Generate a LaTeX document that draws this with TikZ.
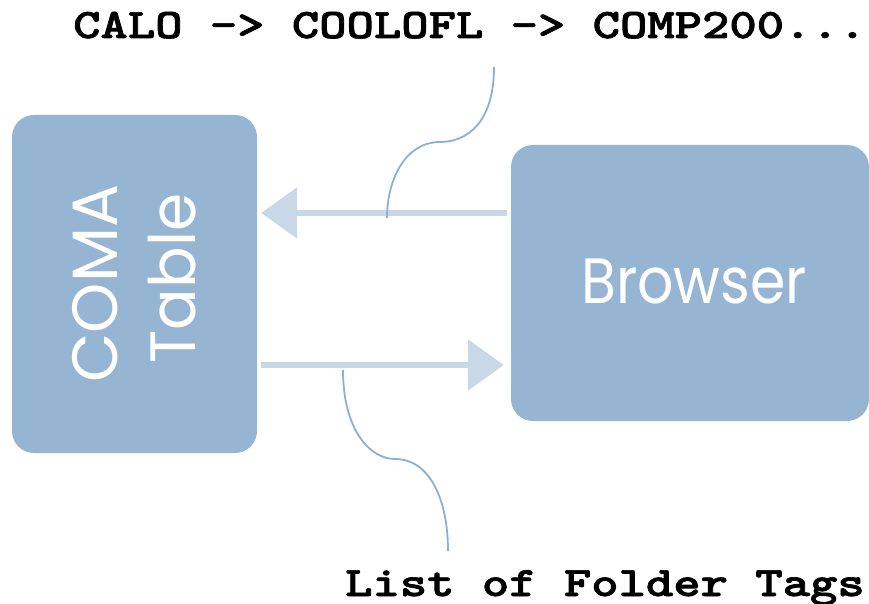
\documentclass[tikz,border=0pt]{standalone}
\usepackage{fontspec}
\newfontfamily\gothic{Poppins}
\newfontfamily\courb[FakeBold=1.6]{lmmonolt10-bold.otf}
\usetikzlibrary{arrows.meta}
\definecolor{boxblue}{HTML}{95B5D3}
\definecolor{flowblue}{HTML}{C8D8E7}
\definecolor{curveblue}{HTML}{8CB0D3}
\tikzset{
  box/.style={fill=boxblue, draw=none, rounded corners=22pt, inner sep=0pt},
  boxtext/.style={text=white, inner sep=0pt, font=\gothic\fontsize{64}{70}\selectfont},
  flow/.style={draw=flowblue, line width=6pt, -{Triangle[length=36pt,width=50pt]}},
  brace/.style={draw=curveblue, line width=1.8pt},
  tag/.style={inner sep=0pt, font=\courb\fontsize{42}{46}\selectfont}
}
\begin{document}
\begin{tikzpicture}[x=1pt,y=-1pt]
\useasboundingbox (0,0) rectangle (869,604);
\node[box, minimum width=245pt, minimum height=338pt] (coma) at (134.5,284) {};
\node[box, minimum width=358pt, minimum height=276pt] (browser) at (690,283) {};
\node[boxtext, rotate=90, anchor=base] (comaA) at (117,283.5) {COMA};
\node[boxtext, rotate=90, anchor=base] (comaB) at (195,278.5) {\scalebox{0.96}[1]{Table}};
\node[boxtext, anchor=base] (browserT) at (694,303) {\scalebox{0.89}[1]{Browser}};
\node[tag, anchor=base west] (top) at (73,38) {\scalebox{1.24}[1]{CALO -> COOLOFL -> COMP200...}};
\node[tag, anchor=base west] (bottom) at (345,596) {\scalebox{1.24}[1]{List of Folder Tags}};
\draw[flow, shorten <=4pt, shorten >=4pt] (browser.west |- 0,213) -- (coma.east |- 0,213);
\draw[flow, shorten <=4pt, shorten >=7pt] (coma.east |- 0,365) -- (browser.west |- 0,365);
\coordinate (t1) at (494,67);
\coordinate (t2) at (440,142);
\coordinate (t3) at (387,218);
\coordinate (b1) at (343,370);
\coordinate (b2) at (395,459);
\coordinate (b3) at (448,551);
\draw[brace] (t1) .. controls (494,125) and (465,142) .. (t2)
  .. controls (405,142) and (387,180) .. (t3);
\draw[brace] (b1) .. controls (343,430) and (370,459) .. (b2)
  .. controls (430,459) and (448,500) .. (b3);
\end{tikzpicture}
\end{document}
